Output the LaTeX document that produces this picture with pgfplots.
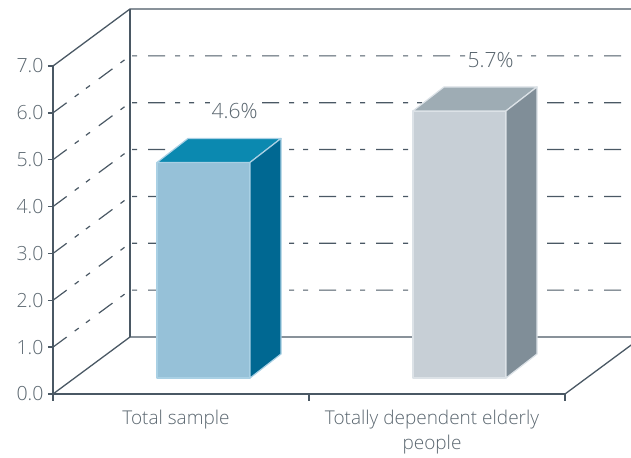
\documentclass[border=0pt]{standalone}
\usepackage{pgfplots}
\pgfplotsset{compat=1.18}
\usepackage{pgfplotstable}
\usepackage{fontspec}
\setmainfont{Open Sans}[UprightFont={* Light}]
\definecolor{axc}{HTML}{4A5864}
\definecolor{txt}{HTML}{5B6770}
\definecolor{fr0}{HTML}{96C1D8}
\definecolor{tp0}{HTML}{0B89B0}
\definecolor{sd0}{HTML}{006892}
\definecolor{ed0}{HTML}{A9D0E4}
\definecolor{fr1}{HTML}{C7CFD6}
\definecolor{tp1}{HTML}{9EACB4}
\definecolor{sd1}{HTML}{808E98}
\definecolor{ed1}{HTML}{DCE2E7}

\pgfplotstableread{
idx val
0 4.6
1 5.7
}\datatable

\begin{document}
\begin{tikzpicture}
\def\DX{0.30078}\def\DY{1.2164}
\begin{axis}[
  x=256pt, y=46.857pt,
  xmin=-0.5, xmax=1.5, ymin=0, ymax=7,
  axis x line*=bottom, axis y line*=left,
  axis line style={axc, line width=1.3pt, -},
  clip=false,
  tick align=outside,
  xtick={0,1},
  xticklabels={Total sample, {Totally dependent elderly\\people}},
  minor xtick={-0.5,0.5,1.5},
  minor tick length=7pt,
  major tick length=5pt,
  major x tick style={draw=none},
  minor x tick style={axc, line width=1.3pt},
  ytick={0,1,...,7},
  major y tick style={axc, line width=1.3pt},
  /pgf/number format/assume math mode=true,
  yticklabel={\pgfmathprintnumber[fixed,fixed zerofill,precision=1]{\tick}},
  yticklabel style={font=\fontsize{19.5}{22}\selectfont, text=txt, xshift=-1pt},
  xticklabel style={font=\fontsize{19}{25}\selectfont, text=txt, align=center, xshift=-5pt, yshift=-8pt},
]
% walls
\draw[axc, line width=1.3pt] (axis cs:-0.5,0) -- (axis cs:-0.5+\DX,\DY) -- (axis cs:1.5+\DX,\DY);
\draw[axc, line width=1.3pt] (axis cs:1.5,0) -- (axis cs:1.5+\DX,\DY);
\draw[axc, line width=1.3pt] (axis cs:-0.5,7) -- (axis cs:-0.5+\DX,7+\DY) -- (axis cs:1.5+\DX,7+\DY);
\draw[axc, line width=1.3pt] (axis cs:-0.5+\DX,\DY) -- (axis cs:-0.5+\DX,7+\DY);
\pgfplotsinvokeforeach{1,...,6}{
  \draw[axc, line width=1.2pt, dash pattern=on 17pt off 10pt on 5pt off 9pt on 5pt off 11pt]
    (axis cs:-0.5,#1) -- (axis cs:-0.5+\DX,#1+\DY) -- (axis cs:1.5+\DX,#1+\DY);
}
% bars
\pgfplotsinvokeforeach{0,1}{
  \pgfplotstablegetelem{#1}{val}\of\datatable
  \pgfmathsetmacro\L{#1-0.09375}
  \pgfmathsetmacro\R{#1+0.26953}
  \pgfmathsetmacro\Yb{0.3414}
  \pgfmathsetmacro\Yt{0.3414+\pgfplotsretval}
  \pgfmathsetmacro\Lb{\L+0.1211}
  \pgfmathsetmacro\Rb{\R+0.1211}
  \pgfmathsetmacro\Ybb{\Yb+0.5122}
  \pgfmathsetmacro\Ytb{\Yt+0.5122}
  \pgfmathsetmacro\Cx{(\Lb+\Rb)/2}
  \edef\tmp{
    \noexpand\filldraw[fill=fr#1, draw=ed#1, line width=1.2pt, line join=round]
      (axis cs:\L,\Yb) -- (axis cs:\R,\Yb) -- (axis cs:\R,\Yt) -- (axis cs:\L,\Yt) -- cycle;
    \noexpand\filldraw[fill=tp#1, draw=ed#1, line width=1.2pt, line join=round]
      (axis cs:\L,\Yt) -- (axis cs:\R,\Yt) -- (axis cs:\Rb,\Ytb) -- (axis cs:\Lb,\Ytb) -- cycle;
    \noexpand\filldraw[fill=sd#1, draw=ed#1, line width=1.2pt, line join=round]
      (axis cs:\R,\Yb) -- (axis cs:\Rb,\Ybb) -- (axis cs:\Rb,\Ytb) -- (axis cs:\R,\Yt) -- cycle;
    \noexpand\node[text=txt, fill=white, inner sep=2pt, font=\noexpand\fontsize{21}{24}\noexpand\selectfont, yshift=27pt]
      at (axis cs:\Cx,\Ytb) {\pgfplotsretval\noexpand\%};
  }
  \tmp
}
\coordinate (BL) at (axis cs:-0.70703,-1.3658);
\coordinate (TR) at (axis cs:1.75781,8.4085);
\end{axis}
\pgfresetboundingbox
\path[use as bounding box] (BL) rectangle (TR);
\end{tikzpicture}
\end{document}
